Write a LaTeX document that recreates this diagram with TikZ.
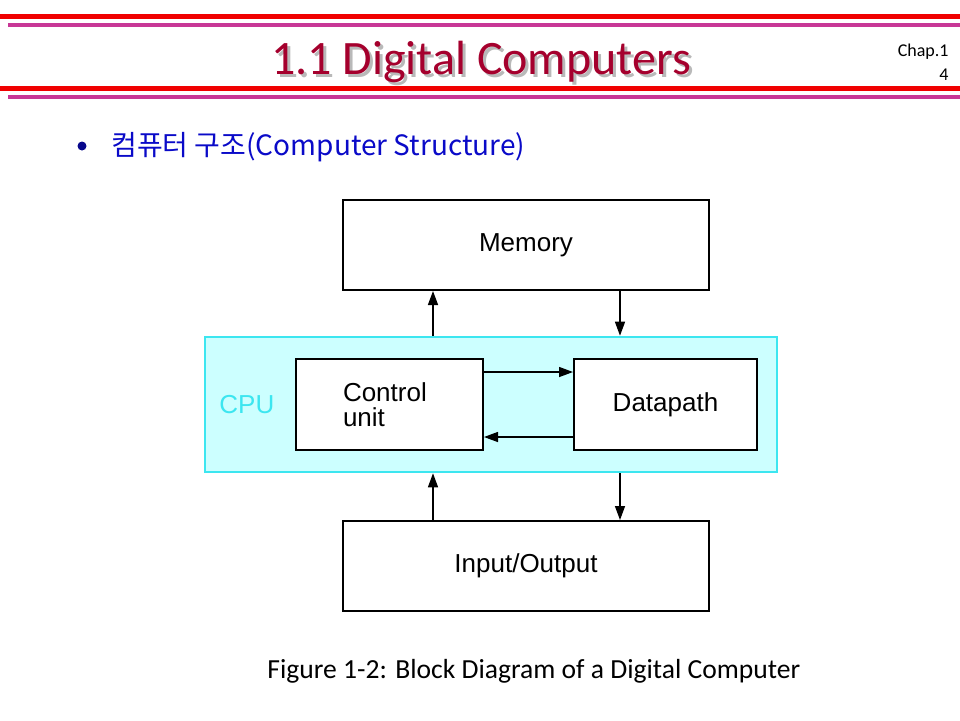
\documentclass[tikz,border=0pt]{standalone}
\usepackage{xcolor}
\usepackage{fontspec}
\setmainfont{Carlito}
\setsansfont{Liberation Sans}
\newfontfamily\kofont{Noto Sans CJK KR}
\usepackage{tikz}
\usetikzlibrary{
    shapes,
    positioning,
    calc,
    arrows.meta
}
\definecolor{titlered}{RGB}{165,0,45}
\definecolor{shadowgray}{RGB}{185,185,185}
\definecolor{barred}{RGB}{240,0,0}
\definecolor{barmagenta}{RGB}{200,55,150}
\definecolor{bulletblue}{RGB}{10,10,200}
\definecolor{cpufill}{RGB}{204,255,255}
\definecolor{cpuline}{RGB}{60,230,240}
\tikzset{
  basic/.style = {
      draw,
      rectangle,
      line width=1pt,
      inner sep=0pt,
      font=\sffamily\fontsize{13}{12.5}\selectfont,
      align=left
  },
  block/.style = {
      basic,
      fill=white
  },
  cpubox/.style = {
      basic,
      draw=cpuline,
      fill=cpufill,
      line width=1.3pt
  },
  arrow/.style = {
      line width=0.7pt,
      -{Triangle[length=7pt,width=5pt]}
  },
  bar/.style = {
      line width=2.5pt
  },
  comic/.style = {
      inner sep=0pt,
      anchor=base west
  }
}
\begin{document}
\begin{tikzpicture}[x=0.5pt, y=-0.5pt]
        \useasboundingbox (0,0) rectangle (960,720);
        % Header bars
        \draw[bar, barred] (0,16.5) -- (960,16.5);
        \draw[bar, barmagenta, line width=2pt] (8,24.5) -- (960,24.5);
        \draw[bar, barred] (0,88.5) -- (960,88.5);
        \draw[bar, barmagenta, line width=2pt] (8,96.5) -- (960,96.5);
        % Title
        \node[comic, anchor=base, text=shadowgray, font=\fontsize{24}{24}\selectfont] (titleshadow) at (484,77) {1.1 Digital Computers};
        \node[comic, anchor=base, text=titlered, font=\fontsize{24}{24}\selectfont] (title) at (481,74) {1.1 Digital Computers};
        \node[comic, anchor=base east, font=\fontsize{9}{9}\selectfont] (chap) at (949,56) {Chap.1};
        \node[comic, anchor=base east, font=\fontsize{9}{9}\selectfont] (page) at (949,80) {4};
        % Bullet
        \node[circle, fill=bulletblue!70!black, inner sep=0pt, minimum size=4.5pt] (bullet) at (82,146) {};
        \node[comic, text=bulletblue, font=\kofont\fontsize{14}{14}\selectfont] (topic) at (111,155) {컴퓨터 구조(Computer Structure)};
        % Blocks
        \node[block, minimum width=183pt, minimum height=45pt] (memory) at (526,245) {Memory};
        \node[cpubox, minimum width=286pt, minimum height=67.5pt] (cpu) at (491,404.5) {};
        \node[comic, text=cpuline, font=\sffamily\fontsize{13}{13}\selectfont] (cpulabel) at (219,413) {CPU};
        \node[block, minimum width=93.5pt, minimum height=45.5pt, text width=46.5pt] (control) at (389.5,404.5) {Control\\unit};
        \node[block, minimum width=91.5pt, minimum height=45.5pt] (datapath) at (665.5,404.5) {Datapath};
        \node[block, minimum width=183pt, minimum height=45pt] (io) at (526,566) {Input/Output};
        % Edges
        \coordinate (up) at (433,0);
        \coordinate (down) at (620,0);
        \coordinate (fwd) at (0,372);
        \coordinate (back) at (0,437);
        \draw[arrow] (cpu.north -| up) -- (memory.south -| up);
        \draw[arrow] (memory.south -| down) -- (cpu.north -| down);
        \draw[arrow] (io.north -| up) -- (cpu.south -| up);
        \draw[arrow] (cpu.south -| down) -- (io.north -| down);
        \draw[arrow] (control.east |- fwd) -- (datapath.west |- fwd);
        \draw[arrow] (datapath.west |- back) -- (control.east |- back);
        % Caption
        \node[comic, font=\fontsize{13.8}{13.8}\selectfont] (caption) at (267,678) {Figure 1-2: Block Diagram of a Digital Computer};
    \end{tikzpicture}
\end{document}
